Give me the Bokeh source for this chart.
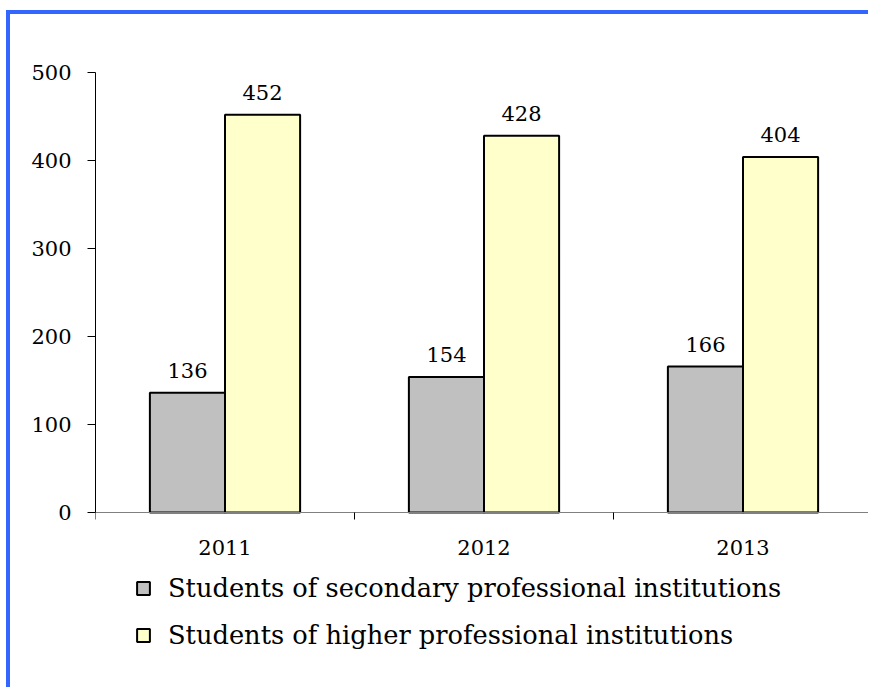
from bokeh.plotting import figure
from bokeh.models import (ColumnDataSource, Range1d, FixedTicker, Legend, LegendItem)
from bokeh.embed import file_html
from bokeh.resources import INLINE

# ---- data ----
years = ["2011", "2012", "2013"]
secondary = [136, 154, 166]
higher = [452, 428, 404]
series_names = ["Students of secondary professional institutions",
                "Students of higher professional institutions"]
y_ticks = [0, 100, 200, 300, 400, 500]

# ---- layout (pixels) ----
W, H = 862, 677
TOP, LEFT, BOTTOM = 58, 85, 4
PX_PER_UNIT = 440 / 500          # 500 units over 440 px, as in the reference
frame_h = H - TOP - BOTTOM
y_start = 500 - frame_h / PX_PER_UNIT   # frame extends below 0 to hold the legend

BAR_W = 0.29
idx = list(range(len(years)))
x_sec = [i + 0.5 - BAR_W / 2 for i in idx]
x_hi = [i + 0.5 + BAR_W / 2 for i in idx]

src_sec = ColumnDataSource(dict(x=x_sec, top=secondary, lbl=[str(v) for v in secondary]))
src_hi = ColumnDataSource(dict(x=x_hi, top=higher, lbl=[str(v) for v in higher]))

p = figure(width=W, height=H, output_backend="svg", toolbar_location=None,
           x_range=Range1d(0, len(years)), y_range=Range1d(y_start, 500),
           min_border_left=LEFT, min_border_top=TOP, min_border_bottom=BOTTOM,
           min_border_right=0)
p.styles = {"margin-top": "10px", "margin-left": "6px",
            "border-top": "4px solid #3366FF", "border-left": "4px solid #3366FF"}
p.outline_line_color = None
p.xgrid.grid_line_color = None
p.ygrid.grid_line_color = None
p.background_fill_color = "white"
p.border_fill_color = "white"

r1 = p.vbar(x="x", top="top", width=BAR_W, bottom=0, source=src_sec,
            fill_color="#C0C0C0", line_color="black", line_width=2)
r2 = p.vbar(x="x", top="top", width=BAR_W, bottom=0, source=src_hi,
            fill_color="#FFFFCC", line_color="black", line_width=2)

for s in (src_sec, src_hi):
    p.text(x="x", y="top", text="lbl", source=s, text_align="center",
           text_baseline="alphabetic", y_offset=-22,
           text_font={"value": "DejaVu Serif"}, text_font_size="21px",
           text_color="black")

# x axis, drawn at y = 0
xa = p.xaxis[0]
xa.fixed_location = 0
xa.ticker = FixedTicker(ticks=[i + 0.5 for i in idx], minor_ticks=[0] + [i + 1 for i in idx])
xa.major_label_overrides = {i + 0.5: y for i, y in zip(idx, years)}
xa.major_tick_out = 0
xa.major_tick_in = 0
xa.minor_tick_out = 7
xa.minor_tick_in = 0
xa.minor_tick_line_color = "black"
xa.axis_line_color = "#808080"
xa.major_label_standoff = 20
xa.major_label_text_font = "DejaVu Serif"
xa.major_label_text_font_size = "21px"
xa.major_label_text_color = "black"

# y axis
ya = p.yaxis[0]
ya.bounds = (0, 500)
ya.ticker = FixedTicker(ticks=y_ticks, minor_ticks=[])
ya.major_tick_out = 8
ya.major_tick_in = 0
ya.major_tick_line_color = "black"
ya.axis_line_color = "black"
ya.major_label_standoff = 16
ya.major_label_text_font = "DejaVu Serif"
ya.major_label_text_font_size = "21px"
ya.major_label_text_color = "black"

legend = Legend(items=[LegendItem(label=series_names[0], renderers=[r1]),
                       LegendItem(label=series_names[1], renderers=[r2])],
                location=(40, 37), orientation="vertical",
                border_line_color=None, background_fill_alpha=0,
                padding=0, margin=0, spacing=17, label_height=30,
                glyph_height=16, glyph_width=16, label_standoff=17,
                label_text_font="DejaVu Serif", label_text_font_size="25.7px",
                label_text_color="black")
p.add_layout(legend, "center")

open("out.html", "w").write(file_html(p, INLINE))
